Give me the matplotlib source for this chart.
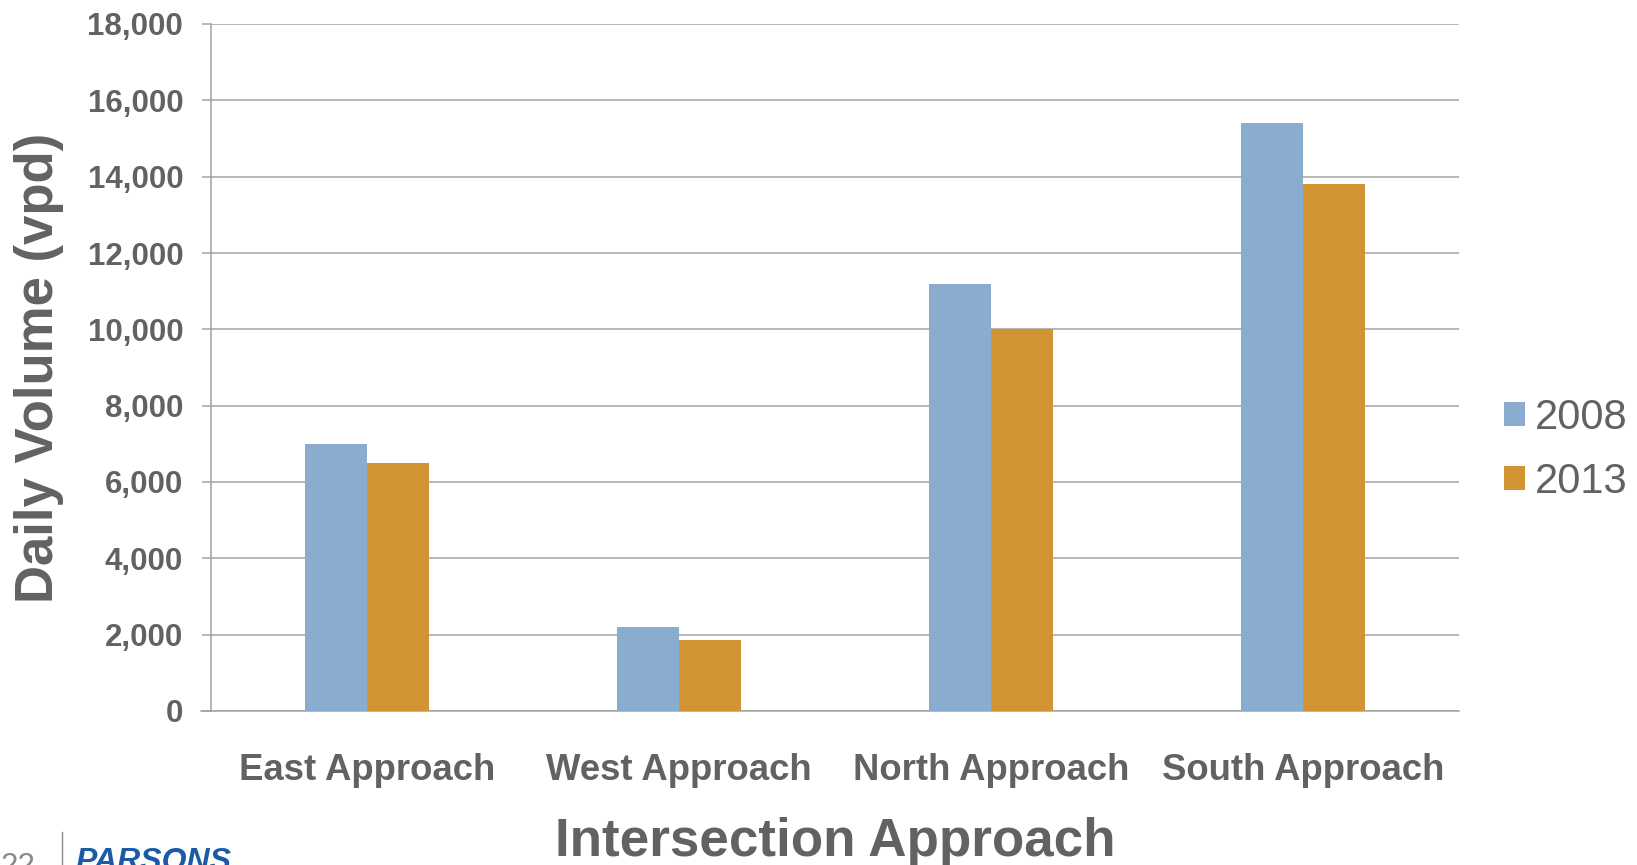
import matplotlib
matplotlib.use("Agg")
import matplotlib.pyplot as plt
import numpy as np
from matplotlib.patches import Patch
from matplotlib.lines import Line2D

# Daily traffic volumes by intersection approach
approaches = ["East Approach", "West Approach", "North Approach", "South Approach"]
years = ["2008", "2013"]
vol_2008 = [7000, 2200, 11200, 15400]
vol_2013 = [6500, 1850, 10000, 13800]
y_ticks = [0, 2000, 4000, 6000, 8000, 10000, 12000, 14000, 16000, 18000]

BLUE = "#8AADCF"
ORANGE = "#D29433"
TEXT = "#626262"
GRID = "#A3A3A3"

plt.rcParams["font.family"] = ["Liberation Sans", "DejaVu Sans"]

W, H = 1637, 865
fig = plt.figure(figsize=(W / 100, H / 100), dpi=100)
ax = fig.add_axes([211 / W, 1 - 711 / H, (1459 - 211) / W, (711 - 24) / H])

x = np.arange(len(approaches)) + 0.5
bw = 0.2
ax.bar(x - bw / 2, vol_2008, width=bw, color=BLUE, zorder=3, label=years[0])
ax.bar(x + bw / 2, vol_2013, width=bw, color=ORANGE, zorder=3, label=years[1])

ax.set_xlim(0, len(approaches))
ax.set_ylim(0, 18000)
ax.set_yticks(y_ticks)
ax.set_yticklabels([f"{v:,}" for v in y_ticks])
ax.set_xticks(x)
ax.set_xticklabels(approaches)

ax.grid(axis="y", color=GRID, linewidth=1.1, zorder=0)
ax.set_axisbelow(True)
for side in ("top", "right"):
    ax.spines[side].set_visible(False)
for side in ("left", "bottom"):
    ax.spines[side].set_color(GRID)
    ax.spines[side].set_linewidth(1.1)

ax.tick_params(axis="y", length=6.5, width=1.1, color=GRID, pad=13.5,
               labelsize=22.5, labelcolor=TEXT)
ax.tick_params(axis="x", length=0, pad=30, labelsize=26.3, labelcolor=TEXT)
for lbl in ax.get_yticklabels() + ax.get_xticklabels():
    lbl.set_fontweight("bold")

# extend the zero line left to the tick
ax.plot([-0.008, 0], [0, 0], transform=ax.get_yaxis_transform(),
        color=GRID, linewidth=1.1, clip_on=False)

ax.set_xlabel("Intersection Approach", fontsize=38.2, fontweight="bold",
              color=TEXT, labelpad=21)
ax.set_ylabel("Daily Volume (vpd)", fontsize=38, fontweight="bold", color=TEXT)
ax.yaxis.label.set_verticalalignment("center")
ax.yaxis.set_label_coords((39 - 211) / (1459 - 211), 0.5)

handles = [Patch(facecolor=BLUE, edgecolor="none"),
           Patch(facecolor=ORANGE, edgecolor="none")]
fig.legend(handles, years, loc="center left",
           bbox_to_anchor=(1504 / W, 1 - 450 / H), frameon=False,
           fontsize=30, labelcolor=TEXT, handlelength=0.5, handleheight=0.5,
           handletextpad=0.25, labelspacing=0.58, borderpad=0, borderaxespad=0)

# footer: page number and logo, running off the lower edge of the page
fig.text(0 / W, -0.011, "22", fontsize=22.5, color="#8a8a8a",
         ha="left", va="baseline")
fig.add_artist(Line2D([62 / W, 62 / W], [0, 1 - 832 / H],
                      color="#8a8a8a", linewidth=1.0))
fig.text(75 / W, -0.006, "PARSONS", fontsize=23, fontweight="bold",
         fontstyle="italic", color="#1B5BA6", ha="left", va="baseline")

fig.savefig("out.png", dpi=100)
